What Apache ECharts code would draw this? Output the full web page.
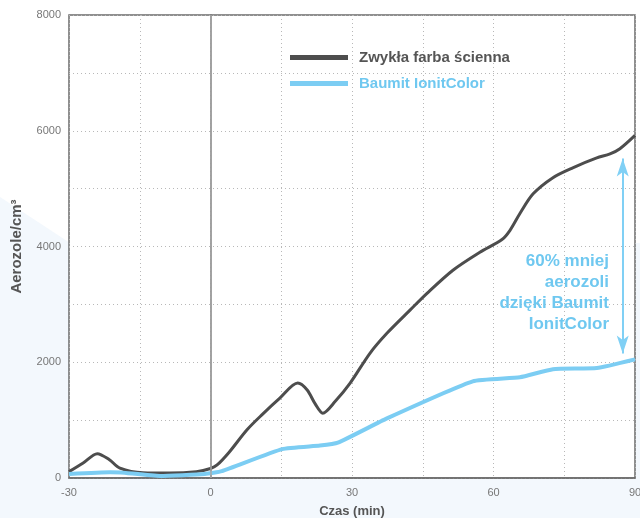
<!DOCTYPE html>
<html>
<head>
<meta charset="utf-8">
<script src="https://cdn.jsdelivr.net/npm/echarts@6/dist/echarts.min.js"></script>
<style>html,body{margin:0;padding:0;background:#fff}#c{width:640px;height:518px}</style>
</head>
<body>
<div id="c"></div>
<script>
const seriesNames = ['Zwykła farba ścienna', 'Baumit IonitColor'];
const darkTime = [-30, -27, -24, -21.5, -19.2, -14.3, -8.6, -3, 0, 1.4, 4, 7.7, 11, 14.7, 18.5, 20.5, 22.2, 23.8, 26.5, 29.6, 33.8, 37.4, 42.3, 45.9, 51.4, 57.1, 61.8, 63.5, 65.6, 68.4, 72.6, 76.8, 81.9, 84.7, 86.8, 90];
const darkValue = [110, 260, 420, 320, 170, 90, 85, 110, 165, 225, 450, 830, 1100, 1380, 1640, 1520, 1280, 1120, 1330, 1640, 2155, 2500, 2900, 3190, 3590, 3900, 4120, 4280, 4570, 4910, 5190, 5360, 5530, 5600, 5690, 5920];
const blueTime = [-30, -21.3, -19, -10.7, -1.2, 2.4, 15.2, 23.2, 27, 37.4, 55.6, 65.6, 72.6, 81.9, 90];
const blueValue = [70, 100, 95, 35, 70, 120, 500, 560, 610, 1030, 1670, 1740, 1880, 1900, 2050];
const yTicks = [0, 2000, 4000, 6000, 8000];
const xTicks = [-30, 0, 30, 60, 90];
const arrowTime = 87.4, arrowTop = 5520, arrowBottom = 2150;
const noteText = '60% mniej\naerozoli\ndzięki Baumit\nIonitColor';

const zip = (a, b) => a.map((v, i) => [v, b[i]]);
const chart = echarts.init(document.getElementById('c'));
const font = '"Liberation Sans", Arial, sans-serif';
chart.setOption({
  backgroundColor: '#ffffff',
  animation: false,
  textStyle: { fontFamily: font },
  graphic: [
    { type: 'polygon', z: -10, shape: { points: [[0, 197], [70, 243], [640, 243], [640, 518], [0, 518]] }, style: { fill: '#f3f8fd' } },
    { type: 'text', right: 640 - 609, top: 251, z: 100, style: { text: noteText, fill: '#6fc8f0', font: 'bold 17px ' + font, textAlign: 'right', lineHeight: 21 } }
  ],
  legend: {
    orient: 'vertical', left: 285, top: 45, itemWidth: 58, itemHeight: 5, itemGap: 11, icon: 'rect',
    data: [
      { name: seriesNames[0], textStyle: { color: '#555555' } },
      { name: seriesNames[1], textStyle: { color: '#6fc8f0' } }
    ],
    textStyle: { fontWeight: 'bold', fontSize: 15, fontFamily: font, padding: [0, 0, 0, 6] }
  },
  grid: { left: 69, right: 5, top: 15, bottom: 40, outerBoundsMode: 'none', containLabel: false, show: true, backgroundColor: '#ffffff', borderColor: '#6b6b6b', borderWidth: 1.5 },
  xAxis: {
    type: 'value', min: -30, max: 90, interval: 15,
    name: 'Czas (min)', nameLocation: 'middle', nameGap: 27,
    nameTextStyle: { fontWeight: 'bold', fontSize: 13, color: '#555' },
    axisLine: { lineStyle: { color: '#6b6b6b', width: 1.5 } },
    axisTick: { show: false },
    axisLabel: { color: '#777', fontSize: 11, margin: 9, formatter: v => xTicks.includes(v) ? String(v) : '' },
    splitLine: { lineStyle: { color: '#b8b8b8', type: [1, 3], width: 1 } }
  },
  yAxis: {
    type: 'value', min: 0, max: 8000, interval: 1000,
    name: 'Aerozole/cm³', nameLocation: 'middle', nameGap: 45, nameRotate: 90,
    nameTextStyle: { fontWeight: 'bold', fontSize: 15, color: '#555' },
    axisLine: { show: true, lineStyle: { color: '#6b6b6b', width: 1.5 } },
    axisTick: { show: false },
    axisLabel: { color: '#777', fontSize: 11, margin: 8, formatter: v => yTicks.includes(v) ? String(v) : '' },
    splitLine: { lineStyle: { color: '#b8b8b8', type: [1, 3], width: 1 } }
  },
  series: [
    {
      name: seriesNames[0], type: 'line', data: zip(darkTime, darkValue), smooth: 0.3,
      showSymbol: false, lineStyle: { color: '#4d4d4d', width: 3 }, itemStyle: { color: '#4d4d4d' }, z: 3,
      markLine: { silent: true, symbol: 'none', label: { show: false }, lineStyle: { color: '#a8a8a8', type: 'solid', width: 1.5 }, data: [{ xAxis: 0 }] }
    },
    {
      name: seriesNames[1], type: 'line', data: zip(blueTime, blueValue), smooth: 0.15,
      showSymbol: false, lineStyle: { color: '#7ccdf3', width: 4 }, itemStyle: { color: '#7ccdf3' }, z: 4,
      markLine: { silent: true, symbol: ['arrow', 'arrow'], symbolSize: [9, 18], label: { show: false },
        lineStyle: { color: '#80d0f5', type: 'solid', width: 2 },
        data: [[{ coord: [arrowTime, arrowTop] }, { coord: [arrowTime, arrowBottom] }]] }
    }
  ]
});
</script>
</body>
</html>
